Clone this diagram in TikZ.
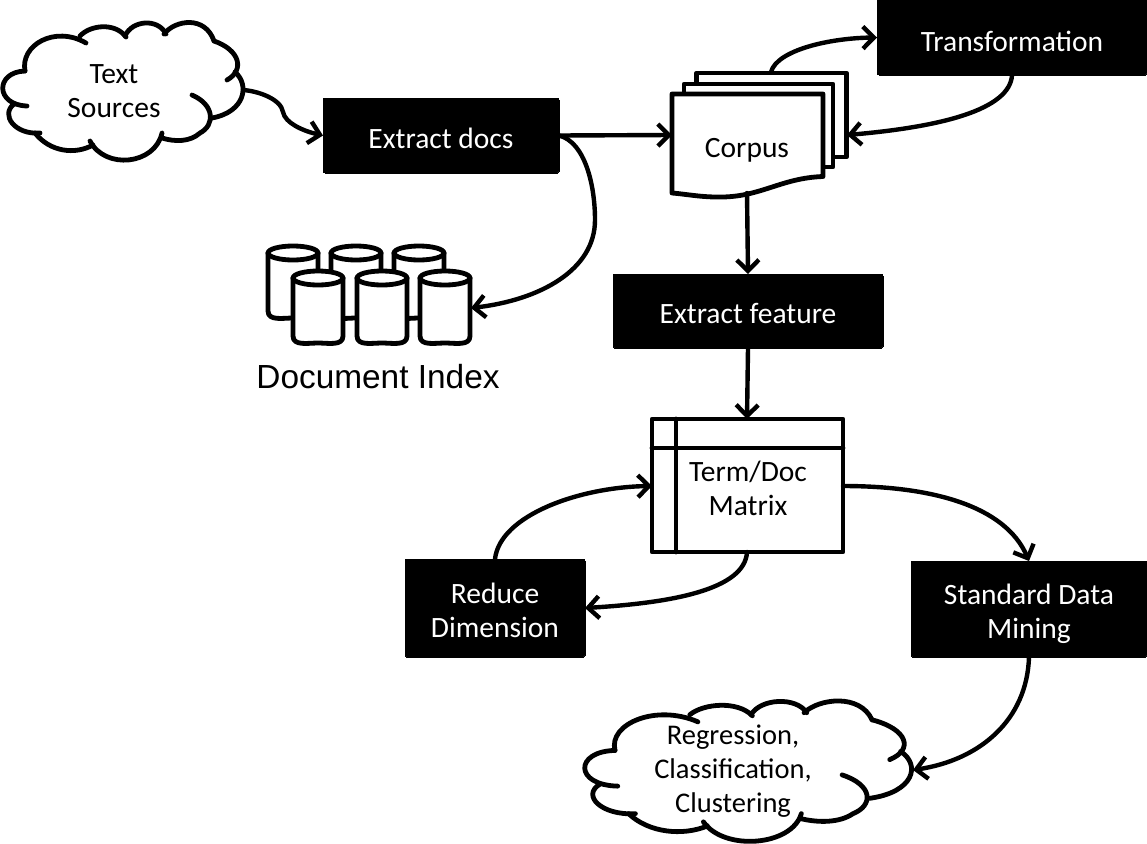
\documentclass[tikz,border=0pt]{standalone}
\usepackage{fontspec}
\setmainfont{Carlito}
\newfontfamily\arialfont{Liberation Sans}
\usetikzlibrary{arrows.meta}
\tikzset{
  lw/.style={line width=4.8pt,line cap=round,line join=round},
  conn/.style={line width=4.4pt,line cap=round,-{Straight Barb[length=11pt,width=22pt,line width=4.4pt]}},
  blackbox/.style={fill=black,draw=black,rounded corners=2pt,inner sep=0pt,text=white,align=center,font=\fontsize{29.5}{34}\selectfont,line width=0pt},
  lbl/.style={align=center,inner sep=0pt,font=\fontsize{29.5}{34}\selectfont},
  cylbody/.style={lw,fill=white},
}
\newcommand{\pad}[1]{\rule{0pt}{#1}}
\newcommand{\cloudshape}{%
  \draw[lw] (25,71) .. controls (20,45) and (55,25) .. (86,43);
  \draw[lw] (80,36) .. controls (90,25) and (115,22) .. (126,37);
  \draw[lw] (125,36) .. controls (132,20) and (158,18) .. (166,34);
  \draw[lw] (164,34) .. controls (175,20) and (205,15) .. (214,41);
  \draw[lw] (214,41) .. controls (240,50) and (245,70) .. (227,80);
  \draw[lw] (235,72) .. controls (250,85) and (245,112) .. (212,118);
  \draw[lw] (192,95) .. controls (215,105) and (215,125) .. (200,133) .. controls (190,142) and (175,142) .. (162,138);
  \draw[lw] (162,133) .. controls (155,165) and (105,170) .. (90,141);
  \draw[lw] (93,145) .. controls (75,155) and (50,152) .. (35,133);
  \draw[lw] (40,133) .. controls (15,135) and (0,115) .. (14,104);
  \draw[lw] (27,106) .. controls (-5,105) and (-5,72) .. (25,71);
}
\newcommand{\cyl}[3]{% center x, top y, bottom y
  \fill[white] (#1-25,#2) rectangle (#1+25,#3);
  \draw[cylbody] (#1-25,#2) -- (#1-25,#3-7) to[out=-90,in=180] (#1,#3) to[out=0,in=-90] (#1+25,#3-7) -- (#1+25,#2);
  \draw[cylbody] (#1,#2) ellipse [x radius=25,y radius=7];
}
\begin{document}
\begin{tikzpicture}[x=1pt,y=-1pt]
\useasboundingbox (0,0) rectangle (1147,843);

% clouds
\begin{scope}\cloudshape\end{scope}
\begin{scope}[shift={(581,678)},xscale=1.36,yscale=1.02]\cloudshape\end{scope}
\coordinate (srcout) at (243,90);
\coordinate (minein) at (913,770);
\node[lbl] (src) at (114,91) {Text\\Sources};
\node[lbl,font=\fontsize{28.5}{34}\selectfont] (res) at (733,771.5) {Regression,\\Classification,\\Clustering};

% boxes
\node[blackbox,minimum width=236pt,minimum height=75pt] (docs) at (441,135.5) {\pad{26pt}Extract docs};
\node[blackbox,minimum width=270pt,minimum height=75pt] (trans) at (1012,37.5) {\pad{28pt}Transformation};
\node[blackbox,minimum width=270pt,minimum height=74pt] (feat) at (748,311) {\pad{26pt}Extract feature};
\node[blackbox,minimum width=180pt,minimum height=98pt] (red) at (495,608) {\pad{26pt}Reduce\\Dimension};
\node[blackbox,minimum width=236pt,minimum height=96pt] (mine) at (1029,609) {\pad{31pt}Standard Data\\Mining};

% corpus pages
\draw[lw,fill=white] (696.5,73) rectangle (846.5,157);
\draw[lw,fill=white] (684,84) rectangle (833,167);
\draw[lw,fill=white] (672,94) -- (823,94) -- (823,176.5) .. controls (780,178) and (760,198) .. (717,197) .. controls (700,197) and (685,194) .. (672,193) -- cycle;
\node[anchor=center,lbl] (corpus) at (747,150) {Corpus};
\coordinate (corpusw) at (672,135);
\coordinate (corpuse) at (847,135);
\coordinate (corpust) at (771,72);
\coordinate (corpusb) at (747,193);

% document index
\cyl{293}{253}{318}
\cyl{356}{253}{318}
\cyl{419}{253}{318}
\cyl{318}{278}{343}
\cyl{382}{278}{343}
\cyl{445}{278}{343}
\coordinate (idxe) at (471,308);
\node[inner sep=0pt,font=\arialfont\fontsize{33.4}{38}\selectfont] (idx) at (378,377) {Document Index};

% matrix
\draw[lw,fill=white] (652,419) rectangle (843,552);
\draw[lw] (676,419) -- (676,552);
\draw[lw] (652,448) -- (843,448);
\node[lbl] (mat) at (748,488) {Term/Doc\\Matrix};
\coordinate (matn) at (747,419);
\coordinate (mats) at (747,552);
\coordinate (matw) at (652,486);
\coordinate (mate) at (843,486);

% connectors
\draw[conn] (srcout) .. controls (258,91) and (281,99) .. (283,112) .. controls (285,123) and (303,131) .. (docs.west);
\draw[conn] (docs.east) -- (corpusw);
\draw[conn] (docs.east) .. controls (585,142) and (595,185) .. (595,220) .. controls (595,270) and (540,300) .. (idxe);
\draw[conn] (corpust) .. controls (777,50) and (830,38) .. (trans.west);
\draw[conn] (trans.south) .. controls (1010,110) and (940,127) .. (corpuse);
\draw[conn] (corpusb) -- (feat.north);
\draw[conn] (feat.south) -- (matn);
\draw[conn] (mate) .. controls (930,486) and (1005,505) .. (mine.north);
\draw[conn] (mats) .. controls (745,590) and (670,603) .. (red.east);
\draw[conn] (red.north) .. controls (500,515) and (580,487) .. (matw);
\draw[conn] (mine.south) .. controls (1027,720) and (980,760) .. (minein);
\end{tikzpicture}
\end{document}
